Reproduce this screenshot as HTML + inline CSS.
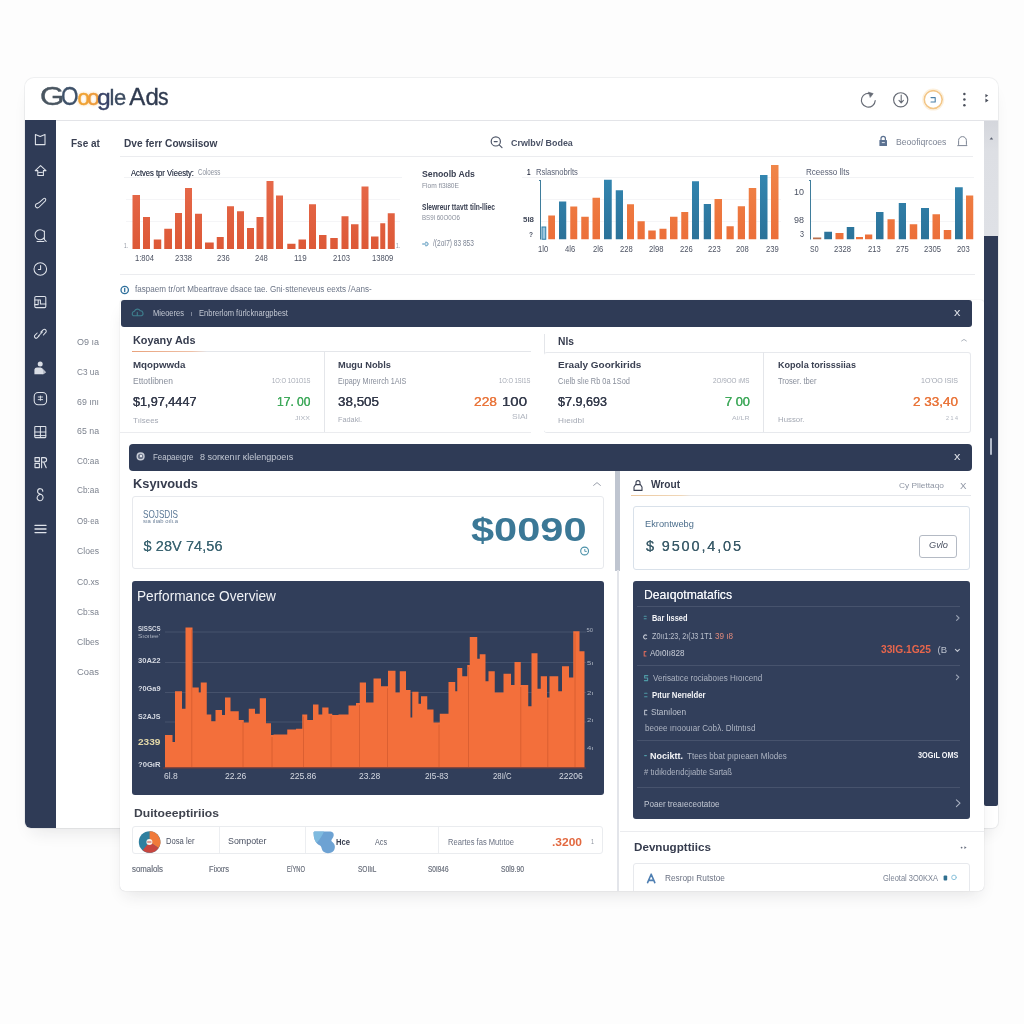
<!DOCTYPE html>
<html lang="en"><head><meta charset="utf-8"><title>Google Ads</title>
<style>
html,body{margin:0;padding:0}
body{width:1024px;height:1024px;overflow:hidden;background:#fdfdfd;font-family:"Liberation Sans",sans-serif;position:relative}
.a{position:absolute}
.t{position:absolute;white-space:nowrap;line-height:1;transform-origin:0 50%}
.lg{display:inline-block;transform-origin:0 50%}
.win{left:24.5px;top:77.5px;width:973.5px;height:750.5px;background:#fff;border-radius:9px 9px 6px 6px;box-shadow:0 10px 18px -7px rgba(30,30,40,.11),0 0 0 1px rgba(60,65,80,.07)}
.side{left:24.5px;top:120px;width:31.2px;height:708px;background:#2f3b56;border-radius:0 0 0 6px}
.hl{height:1px;background:#ebecef}
.card{background:#fff;border:1px solid #e7e9ed;border-radius:3px;box-sizing:border-box}
.dk{background:#2f3b56}
svg{position:absolute;left:0;top:0;overflow:visible}
</style></head><body>
<div class="a win"></div>
<div class="a hl" style="left:25px;top:119.5px;width:973px;background:#e3e4e8;height:1.3px"></div>
<div class="a side"></div>
<div class="a" style="left:983.5px;top:121px;width:14.5px;height:115px;background:linear-gradient(180deg,#d4d6dc 0,#dddfe4 30px,#dfe1e6 100%)"></div>
<div class="a dk" style="left:983.5px;top:236px;width:14.5px;height:570px;border-radius:0 0 2px 2px"></div>
<div class="a" style="left:990.2px;top:437.5px;width:1.5px;height:17px;background:#b4bccb;border-radius:1px"></div>
<div class="a" style="left:119.5px;top:300px;width:864px;height:591px;background:#fff;border-radius:3px 3px 5px 5px;box-shadow:0 8px 16px -5px rgba(30,30,40,.12),0 0 1px rgba(40,45,60,.28)"></div>
<div class="a hl" style="left:120px;top:156px;width:853px"></div>
<div class="a hl" style="left:124px;top:177px;width:278px;background:#f2f3f5"></div>
<div class="a hl" style="left:522px;top:177px;width:452px;background:#f2f3f5"></div>
<div class="a hl" style="left:126px;top:199px;width:274px;background:#f5f5f7"></div>
<div class="a hl" style="left:541px;top:199px;width:240px;background:#f5f5f7"></div>
<div class="a hl" style="left:811px;top:199px;width:163px;background:#f5f5f7"></div>
<div class="a hl" style="left:126px;top:220.5px;width:274px;background:#f5f5f7"></div>
<div class="a hl" style="left:541px;top:220.5px;width:240px;background:#f5f5f7"></div>
<div class="a hl" style="left:811px;top:220.5px;width:163px;background:#f5f5f7"></div>
<div class="a hl" style="left:120px;top:274px;width:855px"></div>
<div class="a dk" style="left:121px;top:299.5px;width:851px;height:27.5px;border-radius:3px"></div>
<div class="a dk" style="left:129px;top:444px;width:843px;height:26.5px;border-radius:4px"></div>
<div class="a" style="left:132px;top:350.5px;width:399px;height:1px;background:linear-gradient(90deg,#e9a27c 0,#efc0a6 60px,#e4e6ea 75px)"></div>
<div class="a hl" style="left:120px;top:432px;width:411px"></div>
<div class="a" style="left:323.5px;top:352px;width:1px;height:80px;background:#e4e6ea"></div>
<div class="a" style="left:543.5px;top:334px;width:1px;height:98px;background:#e4e6ea"></div>
<div class="a card" style="left:543.5px;top:351.5px;width:427px;height:81px;border-left:none"></div>
<div class="a" style="left:762.5px;top:352px;width:1px;height:80px;background:#e4e6ea"></div>
<div class="a" style="left:615px;top:470.5px;width:4.5px;height:100px;background:#bfc5d0"></div>
<div class="a" style="left:616.5px;top:570px;width:2px;height:321px;background:#e3e5ea"></div>
<div class="a card" style="left:132px;top:495.5px;width:471.5px;height:73px"></div>
<div class="a" style="left:631px;top:495px;width:340px;height:1px;background:linear-gradient(90deg,#edc9a0 0,#f0d7b8 50px,#e4e6ea 60px)"></div>
<div class="a card" style="left:632.5px;top:505.5px;width:337.5px;height:64px;border-color:#d9e1ea"></div>
<div class="a" style="left:919px;top:534.5px;width:38px;height:23px;border:1px solid #b4bac4;border-radius:3px;box-sizing:border-box;background:#fff"></div>
<div class="a" style="left:132px;top:581px;width:471.5px;height:214px;border-radius:3px;background:#313e5a"></div>
<div class="a" style="left:633px;top:581px;width:337px;height:238px;border-radius:3px;background:#323f5b"></div>
<div class="a" style="left:637px;top:605.5px;width:323px;height:1px;background:#47536d"></div>
<div class="a" style="left:637px;top:664.5px;width:323px;height:1px;background:#47536d"></div>
<div class="a" style="left:637px;top:740px;width:323px;height:1px;background:#47536d"></div>
<div class="a" style="left:637px;top:787px;width:323px;height:1px;background:#47536d"></div>
<div class="a card" style="left:132px;top:826px;width:471px;height:27.5px;border-color:#eaecef"></div>
<div class="a" style="left:219px;top:827px;width:1px;height:25.5px;background:#eceef1"></div>
<div class="a" style="left:305px;top:827px;width:1px;height:25.5px;background:#eceef1"></div>
<div class="a" style="left:438px;top:827px;width:1px;height:25.5px;background:#eceef1"></div>
<div class="a hl" style="left:620px;top:830.5px;width:364px"></div>
<div class="a" style="left:630px;top:860px;width:345px;height:31px;overflow:hidden"><div class="a card" style="left:2.5px;top:2.5px;width:337.5px;height:40px;border-radius:3px 3px 0 0"></div></div>
<svg width="1024" height="1024" viewBox="0 0 1024 1024">
<defs><linearGradient id="g1" gradientUnits="userSpaceOnUse" x1="0" y1="180" x2="0" y2="249"><stop offset="0" stop-color="#e6694a"/><stop offset="1" stop-color="#dd5937"/></linearGradient><linearGradient id="go" gradientUnits="userSpaceOnUse" x1="0" y1="165" x2="0" y2="239"><stop offset="0" stop-color="#f08649"/><stop offset="1" stop-color="#ec6f39"/></linearGradient><linearGradient id="gb" gradientUnits="userSpaceOnUse" x1="0" y1="165" x2="0" y2="239"><stop offset="0" stop-color="#3489b4"/><stop offset="1" stop-color="#2b7299"/></linearGradient></defs>
<rect x="132.5" y="195" width="7.5" height="54" fill="url(#g1)"/><rect x="143" y="217" width="7" height="32" fill="url(#g1)"/><rect x="153.75" y="239.5" width="7.5" height="9.5" fill="url(#g1)"/><rect x="164.25" y="228.75" width="7.75" height="20.25" fill="url(#g1)"/><rect x="175" y="213" width="7" height="36" fill="url(#g1)"/><rect x="185" y="188" width="7" height="61" fill="url(#g1)"/><rect x="195" y="213.75" width="7" height="35.25" fill="url(#g1)"/><rect x="205" y="242.5" width="8.75" height="6.5" fill="url(#g1)"/><rect x="216.75" y="237" width="7" height="12" fill="url(#g1)"/><rect x="227" y="206.25" width="7" height="42.75" fill="url(#g1)"/><rect x="237" y="211.25" width="7" height="37.75" fill="url(#g1)"/><rect x="247" y="228" width="7" height="21" fill="url(#g1)"/><rect x="256.5" y="217" width="7" height="32" fill="url(#g1)"/><rect x="266.5" y="181" width="7" height="68" fill="url(#g1)"/><rect x="276" y="195.5" width="7" height="53.5" fill="url(#g1)"/><rect x="287.25" y="243.75" width="8.25" height="5.25" fill="url(#g1)"/><rect x="298.5" y="239.5" width="7.5" height="9.5" fill="url(#g1)"/><rect x="309" y="204.25" width="7" height="44.75" fill="url(#g1)"/><rect x="319" y="235" width="7.5" height="14" fill="url(#g1)"/><rect x="330.25" y="238" width="7.5" height="11" fill="url(#g1)"/><rect x="341.5" y="216.25" width="7" height="32.75" fill="url(#g1)"/><rect x="351" y="224.25" width="7.5" height="24.75" fill="url(#g1)"/><rect x="361.5" y="186.5" width="7" height="62.5" fill="url(#g1)"/><rect x="371" y="236.5" width="7.5" height="12.5" fill="url(#g1)"/><rect x="380.25" y="223.25" width="5" height="25.75" fill="url(#g1)"/><rect x="387.75" y="213.25" width="7" height="35.75" fill="url(#g1)"/>
<path d="M540.5 180V239.5M539 180.5H541" stroke="#3f7d9c" stroke-width="1" fill="none"/><path d="M810.5 180V239.5M809 180.5H811" stroke="#3f7d9c" stroke-width="1" fill="none"/><rect x="542" y="227" width="3.75" height="12.25" fill="#9cc6de" stroke="#2e7ea8" stroke-width="1"/><rect x="548.25" y="215.5" width="6.75" height="23.75" fill="url(#go)"/><rect x="559" y="201.5" width="7.25" height="37.75" fill="url(#gb)"/><rect x="570.25" y="206.5" width="7" height="32.75" fill="url(#go)"/><rect x="581.25" y="216.75" width="7.5" height="22.5" fill="url(#go)"/><rect x="592.5" y="197.75" width="7.5" height="41.5" fill="url(#go)"/><rect x="604" y="179.75" width="7.75" height="59.5" fill="url(#gb)"/><rect x="615.75" y="190.25" width="7.25" height="49" fill="url(#gb)"/><rect x="627" y="204.25" width="7" height="35" fill="url(#go)"/><rect x="637.5" y="221.25" width="7.25" height="18" fill="url(#go)"/><rect x="648.25" y="230.5" width="7.5" height="8.75" fill="url(#go)"/><rect x="659.5" y="228.75" width="7" height="10.5" fill="url(#go)"/><rect x="670" y="216.75" width="7.5" height="22.5" fill="url(#go)"/><rect x="681.25" y="212" width="7" height="27.25" fill="url(#go)"/><rect x="692" y="181.25" width="7" height="58" fill="url(#gb)"/><rect x="703.75" y="204" width="7.25" height="35.25" fill="url(#gb)"/><rect x="714.5" y="199" width="7.5" height="40.25" fill="url(#go)"/><rect x="726.5" y="226.25" width="7.25" height="13" fill="url(#go)"/><rect x="737.75" y="206.25" width="7.25" height="33" fill="url(#go)"/><rect x="748.75" y="188" width="7.5" height="51.25" fill="url(#go)"/><rect x="760" y="175" width="7.5" height="64.25" fill="url(#gb)"/><rect x="771" y="165" width="7.5" height="74.25" fill="url(#go)"/>
<rect x="813" y="237.5" width="8.25" height="1.75" fill="#b8704f"/><rect x="824.25" y="231.75" width="7.75" height="7.5" fill="url(#gb)"/><rect x="835.5" y="233" width="8" height="6.25" fill="url(#go)"/><rect x="846.75" y="227" width="7.5" height="12.25" fill="url(#gb)"/><rect x="856" y="237" width="7" height="2.25" fill="url(#go)"/><rect x="865" y="234.5" width="7.25" height="4.75" fill="url(#go)"/><rect x="876" y="212" width="7.5" height="27.25" fill="url(#gb)"/><rect x="887.5" y="219.25" width="7.25" height="20" fill="url(#go)"/><rect x="898.75" y="203" width="7.25" height="36.25" fill="url(#gb)"/><rect x="909.75" y="224.25" width="7.5" height="15" fill="url(#go)"/><rect x="921" y="208" width="8" height="31.25" fill="url(#gb)"/><rect x="932.5" y="214.25" width="7.5" height="25" fill="url(#go)"/><rect x="943.75" y="230" width="7.5" height="9.25" fill="url(#go)"/><rect x="955" y="187.25" width="7.75" height="52" fill="url(#gb)"/><rect x="966" y="195.5" width="7.25" height="43.75" fill="url(#go)"/>
<path d="M165 632H586" stroke="#46526c" stroke-width="1"/><path d="M165 662.5H586" stroke="#46526c" stroke-width="1"/><path d="M165 692.5H586" stroke="#46526c" stroke-width="1"/><path d="M165 722H586" stroke="#46526c" stroke-width="1"/><path d="M165 767.5V735H172.5V742H175V691.25H182V708.75H185.5V627.5H192.5V687.5H198.75V692.5H200.75V682.5H206.75V714.5H211.25V721.25H215.5V710H222V715H225V697.5H230.5V711.25H238.75V720H243.75V722.5H248.75V708.75H255V713.75H259.75V698.25H266V723.25H271V735H273.5V734.5H287.25V729.5H296V728.75H302.25V714.5H307.25V720H313V704.5H318.5V714.5H322.25V707.5H328.5V713.75H332.25V715H338.5V714.5H348.5V705.5H356V703H359.75V682.5H366V702.5H373.5V678.5H381V686.25H388V670.75H395.5V692.5H399.75V671.25H406V690H410.5V717.5H412.25V691.75H418.5V703.75H421V696.25H427.25V709.5H433.5V722.5H439.75V713.75H448.5V682H455.25V691.25H457.25V668H462.25V676.25H467.25V665H469.75V637H477.25V658.75H479.75V654.25H485.5V681.25H488.5V671.25H494.75V692.5H503.5V673.75H511V685H514.5V662H520.75V685H528.25V706.25H531.5V653.25H537.5V688.75H540.75V676.25H547V697.5H549.5V676.25H558.25V691.25H562V666.25H569V677.5H573.25V631.25H579.5V651.25H584.5V767.5Z" fill="#f36f3b"/>
<path d="M191.75 629.5V767.5" stroke="#c9532a" stroke-width="0.8" opacity="0.7"/><path d="M243 722V767.5" stroke="#c9532a" stroke-width="0.8" opacity="0.7"/><path d="M272 737V767.5" stroke="#c9532a" stroke-width="0.8" opacity="0.7"/><path d="M303.5 716.5V767.5" stroke="#c9532a" stroke-width="0.8" opacity="0.7"/><path d="M331 715.75V767.5" stroke="#c9532a" stroke-width="0.8" opacity="0.7"/><path d="M359.5 705V767.5" stroke="#c9532a" stroke-width="0.8" opacity="0.7"/><path d="M387.5 688.25V767.5" stroke="#c9532a" stroke-width="0.8" opacity="0.7"/><path d="M439 724.5V767.5" stroke="#c9532a" stroke-width="0.8" opacity="0.7"/><path d="M468.5 667V767.5" stroke="#c9532a" stroke-width="0.8" opacity="0.7"/><path d="M520.75 687V767.5" stroke="#c9532a" stroke-width="0.8" opacity="0.7"/><path d="M547.75 699.5V767.5" stroke="#c9532a" stroke-width="0.8" opacity="0.7"/><path d="M575 633.25V767.5" stroke="#c9532a" stroke-width="0.8" opacity="0.7"/><path d="M163 768H586" stroke="#7a3a34" stroke-width="1"/>
</svg>
<div class="t" id="t0" style="left:71px;top:138.53px;font-size:10px;color:#3a4052;font-weight:700;">Fse at</div>
<div class="t" id="t1" style="left:124px;top:139.37px;font-size:10.2px;color:#3a4052;font-weight:700;transform:scaleX(0.994);">Dve ferr Cowsiisow</div>
<div class="t" id="t2" style="left:511px;top:137.62px;font-size:9.9px;color:#4a5266;font-weight:700;transform:scaleX(0.901);">Crwlbv/ Bodea</div>
<div class="t" id="t3" style="left:895.5px;top:137.64px;font-size:8.7px;color:#7c8494;transform:scaleX(0.994);">Beoofiqrcoes</div>
<div class="t" id="t4" style="left:131px;top:168.72px;font-size:8.6px;color:#434a5b;transform:scaleX(0.887);text-shadow:0 0 0.3px #434a5b;">Actves tpr Vieesty:</div>
<div class="t" id="t5" style="left:197.5px;top:169.06px;font-size:8.2px;color:#8b919d;transform:scaleX(0.76);">Coloess</div>
<div class="t" id="t6" style="left:135.43px;top:253.8px;font-size:8.5px;color:#4d5363;transform:scaleX(0.899);">1:804</div>
<div class="t" id="t7" style="left:175.493px;top:253.8px;font-size:8.5px;color:#4d5363;transform:scaleX(0.899);">2338</div>
<div class="t" id="t8" style="left:216.62px;top:253.8px;font-size:8.5px;color:#4d5363;transform:scaleX(0.899);">236</div>
<div class="t" id="t9" style="left:254.62px;top:253.8px;font-size:8.5px;color:#4d5363;transform:scaleX(0.899);">248</div>
<div class="t" id="t10" style="left:293.62px;top:253.8px;font-size:8.5px;color:#4d5363;transform:scaleX(0.941);">119</div>
<div class="t" id="t11" style="left:333.493px;top:253.8px;font-size:8.5px;color:#4d5363;transform:scaleX(0.899);">2103</div>
<div class="t" id="t12" style="left:372.366px;top:253.8px;font-size:8.5px;color:#4d5363;transform:scaleX(0.9);">13809</div>
<div class="t" id="t13" style="left:124px;top:242.67px;font-size:6.3px;color:#8a909c;transform:scaleX(0.761);">1.</div>
<div class="t" id="t14" style="left:396px;top:242.67px;font-size:6.3px;color:#8a909c;transform:scaleX(0.761);">1.</div>
<div class="t" id="t15" style="left:422px;top:168.87px;font-size:9.6px;color:#3a4052;font-weight:700;transform:scaleX(0.909);">Senoolb Ads</div>
<div class="t" id="t16" style="left:422px;top:182.4px;font-size:7.8px;color:#878d9a;transform:scaleX(0.853);">Flom fi3l80E</div>
<div class="t" id="t17" style="left:422px;top:202.97px;font-size:8.3px;color:#3a4052;font-weight:700;transform:scaleX(0.799);">Slewreur ttavtt tiln-lliec</div>
<div class="t" id="t18" style="left:422px;top:214.4px;font-size:7.8px;color:#878d9a;transform:scaleX(0.789);">BS9l 60O0O6</div>
<div class="t" id="t19" style="left:433px;top:240.06px;font-size:8.2px;color:#7c8494;transform:scaleX(0.803);">/(2oI7) 83 853</div>
<div class="t" id="t20" style="left:526.5px;top:167.6px;font-size:8.74px;color:#3a4052;font-weight:700;transform:scaleX(0.72);">1</div>
<div class="t" id="t21" style="left:536px;top:167.64px;font-size:8.7px;color:#596074;transform:scaleX(0.877);">Rslasnobrlts</div>
<div class="t" id="t22" style="left:523px;top:216.23px;font-size:8px;color:#434a5b;font-weight:700;transform:scaleX(0.989);">5l8</div>
<div class="t" id="t23" style="left:529px;top:231.23px;font-size:8px;color:#4a5162;font-weight:700;transform:scaleX(0.818);">?</div>
<div class="t" id="t24" style="left:537.897px;top:244.8px;font-size:8.5px;color:#4d5363;transform:scaleX(0.9);">1l0</div>
<div class="t" id="t25" style="left:564.897px;top:244.8px;font-size:8.5px;color:#4d5363;transform:scaleX(0.9);">4l6</div>
<div class="t" id="t26" style="left:592.897px;top:244.8px;font-size:8.5px;color:#4d5363;transform:scaleX(0.9);">2l6</div>
<div class="t" id="t27" style="left:619.62px;top:244.8px;font-size:8.5px;color:#4d5363;transform:scaleX(0.899);">228</div>
<div class="t" id="t28" style="left:648.771px;top:244.8px;font-size:8.5px;color:#4d5363;transform:scaleX(0.899);">2l98</div>
<div class="t" id="t29" style="left:679.62px;top:244.8px;font-size:8.5px;color:#4d5363;transform:scaleX(0.899);">226</div>
<div class="t" id="t30" style="left:708.12px;top:244.8px;font-size:8.5px;color:#4d5363;transform:scaleX(0.899);">223</div>
<div class="t" id="t31" style="left:735.62px;top:244.8px;font-size:8.5px;color:#4d5363;transform:scaleX(0.899);">208</div>
<div class="t" id="t32" style="left:765.62px;top:244.8px;font-size:8.5px;color:#4d5363;transform:scaleX(0.899);">239</div>
<div class="t" id="t33" style="left:805.5px;top:167.64px;font-size:8.7px;color:#596074;transform:scaleX(0.927);">Rceesso llts</div>
<div class="t" id="t34" style="left:794px;top:187.64px;font-size:8.7px;color:#4a5162;transform:scaleX(1.032);">10</div>
<div class="t" id="t35" style="left:794px;top:215.64px;font-size:8.7px;color:#4a5162;transform:scaleX(1.032);">98</div>
<div class="t" id="t36" style="left:800px;top:229.64px;font-size:8.7px;color:#4a5162;transform:scaleX(0.825);">3</div>
<div class="t" id="t37" style="left:809.747px;top:244.8px;font-size:8.5px;color:#4d5363;transform:scaleX(0.817);">S0</div>
<div class="t" id="t38" style="left:834.493px;top:244.8px;font-size:8.5px;color:#4d5363;transform:scaleX(0.899);">2328</div>
<div class="t" id="t39" style="left:867.62px;top:244.8px;font-size:8.5px;color:#4d5363;transform:scaleX(0.899);">213</div>
<div class="t" id="t40" style="left:895.62px;top:244.8px;font-size:8.5px;color:#4d5363;transform:scaleX(0.899);">275</div>
<div class="t" id="t41" style="left:923.993px;top:244.8px;font-size:8.5px;color:#4d5363;transform:scaleX(0.899);">2305</div>
<div class="t" id="t42" style="left:957.12px;top:244.8px;font-size:8.5px;color:#4d5363;transform:scaleX(0.899);">203</div>
<div class="t" id="t43" style="left:135px;top:285.21px;font-size:9.2px;color:#6b7486;transform:scaleX(0.881);">faspaem tr/ort Mbeartrave dsace tae. Gni·stteneveus eexts /Aans-</div>
<div class="t" id="t44" style="left:153px;top:308.72px;font-size:8.6px;color:#c3c8d3;transform:scaleX(0.876);">Mieoeres</div>
<div class="t" id="t45" style="left:190.5px;top:309.65px;font-size:7.5px;color:#c3c8d3;transform:scaleX(0.72);">ı</div>
<div class="t" id="t46" style="left:199px;top:308.72px;font-size:8.6px;color:#c3c8d3;transform:scaleX(0.882);">Enbrerlom fürlcknargpbest</div>
<div class="t" id="t47" style="left:954.3px;top:307.27px;font-size:11.5px;color:#dfe2e9;transform:scaleX(1.113);">x</div>
<div class="t" id="t48" style="left:76.5px;top:337.64px;font-size:8.69px;color:#7d838f;transform:scaleX(1.038);">O9  ıa</div>
<div class="t" id="t49" style="left:76.5px;top:367.64px;font-size:8.69px;color:#7d838f;transform:scaleX(0.952);">C3 ua</div>
<div class="t" id="t50" style="left:76.5px;top:397.64px;font-size:8.69px;color:#7d838f;transform:scaleX(1.015);">69 ını</div>
<div class="t" id="t51" style="left:76.5px;top:426.64px;font-size:8.69px;color:#7d838f;transform:scaleX(1.015);">65 na</div>
<div class="t" id="t52" style="left:76.5px;top:456.64px;font-size:8.69px;color:#7d838f;transform:scaleX(0.952);">C0:aa</div>
<div class="t" id="t53" style="left:76.5px;top:485.64px;font-size:8.69px;color:#7d838f;transform:scaleX(0.952);">Cb:aa</div>
<div class="t" id="t54" style="left:76.5px;top:516.64px;font-size:8.69px;color:#7d838f;transform:scaleX(0.913);">O9·ea</div>
<div class="t" id="t55" style="left:76.5px;top:546.64px;font-size:8.69px;color:#7d838f;transform:scaleX(0.993);">Cloes</div>
<div class="t" id="t56" style="left:76.5px;top:577.64px;font-size:8.69px;color:#7d838f;transform:scaleX(0.993);">C0.xs</div>
<div class="t" id="t57" style="left:76.5px;top:607.64px;font-size:8.69px;color:#7d838f;transform:scaleX(0.972);">Cb:sa</div>
<div class="t" id="t58" style="left:76.5px;top:637.64px;font-size:8.69px;color:#7d838f;transform:scaleX(0.993);">Clbes</div>
<div class="t" id="t59" style="left:76.5px;top:667.64px;font-size:8.69px;color:#7d838f;transform:scaleX(1.087);">Coas</div>
<div class="t" id="t60" style="left:132.5px;top:335.35px;font-size:11.4px;color:#363c4e;font-weight:700;transform:scaleX(0.955);">Koyany Ads</div>
<div class="t" id="t61" style="left:558px;top:335.69px;font-size:11px;color:#363c4e;font-weight:700;transform:scaleX(0.934);">Nls</div>
<div class="t" id="t62" style="left:132.5px;top:359.87px;font-size:9.6px;color:#3a4052;font-weight:700;transform:scaleX(1.015);">Mqopwwda</div>
<div class="t" id="t63" style="left:132.5px;top:378.06px;font-size:8.2px;color:#878d9a;transform:scaleX(1.032);">Ettotlibnen</div>
<div class="t" id="t64" style="left:132.5px;top:395px;font-size:13px;color:#343a4b;transform:scaleX(0.976);-webkit-text-stroke:0.2px currentColor;text-shadow:0 0 0.4px #343a4b;">$1,97,4447</div>
<div class="t" id="t65" style="left:132.5px;top:416.57px;font-size:7.6px;color:#a3a8b3;transform:scaleX(1.041);">Tıisees</div>
<div class="t" id="t66" style="left:271.5px;top:378.24px;font-size:6.8px;color:#a3a8b3;transform:scaleX(0.863);">1O:O 1O1O1S</div>
<div class="t" id="t67" style="left:276.5px;top:395px;font-size:13px;color:#3fa95b;transform:scaleX(0.927);-webkit-text-stroke:0.2px currentColor;text-shadow:0 0 0.4px #3fa95b;">17. 00</div>
<div class="t" id="t68" style="left:295px;top:414.75px;font-size:6.2px;color:#b0b5bf;transform:scaleX(1.145);">JIXX</div>
<div class="t" id="t69" style="left:338px;top:359.87px;font-size:9.6px;color:#3a4052;font-weight:700;transform:scaleX(0.965);">Mugu Nobls</div>
<div class="t" id="t70" style="left:338px;top:378.06px;font-size:8.2px;color:#878d9a;transform:scaleX(0.879);">Eıpapy Mıreırch 1AIS</div>
<div class="t" id="t71" style="left:338px;top:395px;font-size:13px;color:#343a4b;transform:scaleX(1.031);-webkit-text-stroke:0.2px currentColor;text-shadow:0 0 0.4px #343a4b;">38,505</div>
<div class="t" id="t72" style="left:338px;top:415.57px;font-size:7.6px;color:#a3a8b3;transform:scaleX(0.963);">Fadakl.</div>
<div class="t" id="t73" style="left:498.5px;top:378.24px;font-size:6.8px;color:#a3a8b3;transform:scaleX(0.859);">1O:O 1SI1S</div>
<div class="t" id="t74" style="left:473.5px;top:395px;font-size:13px;color:#e9763c;transform:scaleX(1.06);-webkit-text-stroke:0.2px currentColor;text-shadow:0 0 0.4px #e9763c;">228</div>
<div class="t" id="t75" style="left:502px;top:395px;font-size:13px;color:#343a4b;transform:scaleX(1.152);-webkit-text-stroke:0.2px currentColor;text-shadow:0 0 0.4px #343a4b;">100</div>
<div class="t" id="t76" style="left:512px;top:414.49px;font-size:6.51px;color:#b0b5bf;transform:scaleX(1.3);">SIAI</div>
<div class="t" id="t77" style="left:558px;top:359.87px;font-size:9.6px;color:#3a4052;font-weight:700;transform:scaleX(1.043);">Eraaly Goorkirids</div>
<div class="t" id="t78" style="left:558px;top:378.06px;font-size:8.2px;color:#878d9a;transform:scaleX(0.902);">Cıelb slıe Rb 0a 1Sod</div>
<div class="t" id="t79" style="left:558px;top:395px;font-size:13px;color:#343a4b;transform:scaleX(0.968);-webkit-text-stroke:0.2px currentColor;text-shadow:0 0 0.4px #343a4b;">$7.9,693</div>
<div class="t" id="t80" style="left:558px;top:416.57px;font-size:7.6px;color:#a3a8b3;transform:scaleX(1.079);">Hıeıdbl</div>
<div class="t" id="t81" style="left:713px;top:378.24px;font-size:6.8px;color:#a3a8b3;transform:scaleX(0.929);">2O/9OO ıMS</div>
<div class="t" id="t82" style="left:724.5px;top:395px;font-size:13px;color:#3fa95b;transform:scaleX(0.988);-webkit-text-stroke:0.2px currentColor;text-shadow:0 0 0.4px #3fa95b;">7 00</div>
<div class="t" id="t83" style="left:732px;top:414.75px;font-size:6.2px;color:#b0b5bf;transform:scaleX(1.128);">AI/LR</div>
<div class="t" id="t84" style="left:777.5px;top:359.87px;font-size:9.6px;color:#3a4052;font-weight:700;transform:scaleX(0.943);">Kopola torisssiias</div>
<div class="t" id="t85" style="left:777.5px;top:378.06px;font-size:8.2px;color:#878d9a;transform:scaleX(0.925);">Troser. tber</div>
<div class="t" id="t86" style="left:777.5px;top:415.57px;font-size:7.6px;color:#a3a8b3;transform:scaleX(1.028);">Hussor.</div>
<div class="t" id="t87" style="left:921px;top:378.24px;font-size:6.8px;color:#a3a8b3;transform:scaleX(1.037);">1O&#x27;OO ISIS</div>
<div class="t" id="t88" style="left:913px;top:395px;font-size:13px;color:#e9763c;transform:scaleX(1.037);-webkit-text-stroke:0.2px currentColor;text-shadow:0 0 0.4px #e9763c;">2 33,40</div>
<div class="t" id="t89" style="left:946px;top:414.75px;font-size:6.2px;color:#b0b5bf;transform:scaleX(0.87);">2 1 4</div>
<div class="t" id="t90" style="left:152.5px;top:452.72px;font-size:8.6px;color:#c3c8d3;transform:scaleX(0.921);">Feapaeıgre</div>
<div class="t" id="t91" style="left:200px;top:452.72px;font-size:8.6px;color:#c3c8d3;transform:scaleX(1.051);">8 sorκenır κlelengpoeıs</div>
<div class="t" id="t92" style="left:954.3px;top:451.27px;font-size:11.5px;color:#dfe2e9;transform:scaleX(1.113);">x</div>
<div class="t" id="t93" style="left:132.5px;top:478.33px;font-size:12.6px;color:#363c4e;font-weight:700;transform:scaleX(1.02);">Ksyıvouds</div>
<div class="t" id="t94" style="left:142.5px;top:510.2px;font-size:10.4px;color:#5b7896;transform:scaleX(0.786);">SOJSDIS</div>
<div class="t" id="t95" style="left:142.5px;top:520.11px;font-size:4.6px;color:#6d8199;transform:scaleX(1.281);">sıa ılıab oılı.a</div>
<div class="t" id="t96" style="left:143.5px;top:538.73px;font-size:14.5px;color:#3d6673;letter-spacing:0.08px;text-shadow:0 0 0.4px #3d6673;">$ 28V 74,56</div>
<div class="t" id="t97" style="left:471px;top:512.64px;font-size:33.5px;color:#3b7896;font-weight:700;transform:scaleX(1.24);">$0090</div>
<div class="t" id="t98" style="left:651px;top:479.27px;font-size:11.5px;color:#363c4e;font-weight:700;transform:scaleX(0.879);">Wrout</div>
<div class="t" id="t99" style="left:899px;top:482.23px;font-size:8px;color:#8f96a4;transform:scaleX(1.043);">Cy Pllettaqo</div>
<div class="t" id="t100" style="left:959.5px;top:481px;font-size:9.45px;color:#8f96a4;transform:scaleX(1.029);">X</div>
<div class="t" id="t101" style="left:645px;top:519.04px;font-size:9.4px;color:#4c6e8c;transform:scaleX(0.987);">Ekrontwebg</div>
<div class="t" id="t102" style="left:646px;top:538.73px;font-size:14.5px;color:#3a5b69;letter-spacing:1.84px;text-shadow:0 0 0.4px #3a5b69;">$ 9500,4,05</div>
<div class="t" id="t103" style="left:929px;top:541.38px;font-size:9px;color:#4a5162;transform:scaleX(1.026);font-style:italic;">Gvlo</div>
<div class="t" id="t104" style="left:137px;top:589.15px;font-size:14px;color:#f1f3f7;transform:scaleX(0.976);">Performance Overview</div>
<div class="t" id="t105" style="left:138px;top:624.52px;font-size:7.65px;color:#d5d9e2;font-weight:700;transform:scaleX(0.802);">SlSSCS</div>
<div class="t" id="t106" style="left:138px;top:634.05px;font-size:5.85px;color:#aab1bf;transform:scaleX(1.119);">Sıoıtee&#x27;</div>
<div class="t" id="t107" style="left:138px;top:656.52px;font-size:7.65px;color:#d5d9e2;font-weight:700;">30A22</div>
<div class="t" id="t108" style="left:138px;top:684.52px;font-size:7.65px;color:#d5d9e2;font-weight:700;transform:scaleX(0.962);">?0Ga9</div>
<div class="t" id="t109" style="left:138px;top:712.52px;font-size:7.65px;color:#d5d9e2;font-weight:700;transform:scaleX(0.928);">S2AJS</div>
<div class="t" id="t110" style="left:138px;top:737.69px;font-size:8.64px;color:#e3d8a8;font-weight:700;transform:scaleX(1.171);">2339</div>
<div class="t" id="t111" style="left:138px;top:760.52px;font-size:7.65px;color:#d5d9e2;font-weight:700;">?0GıR</div>
<div class="t" id="t112" style="left:163.609px;top:772.38px;font-size:9px;color:#d5d9e2;transform:scaleX(0.95);">6l.8</div>
<div class="t" id="t113" style="left:225.304px;top:772.38px;font-size:9px;color:#d5d9e2;transform:scaleX(0.949);">22.26</div>
<div class="t" id="t114" style="left:289.927px;top:772.38px;font-size:9px;color:#d5d9e2;transform:scaleX(0.95);">225.86</div>
<div class="t" id="t115" style="left:359.304px;top:772.38px;font-size:9px;color:#d5d9e2;transform:scaleX(0.949);">23.28</div>
<div class="t" id="t116" style="left:425.355px;top:772.38px;font-size:9px;color:#d5d9e2;transform:scaleX(0.912);">2I5-83</div>
<div class="t" id="t117" style="left:492.732px;top:772.38px;font-size:9px;color:#d5d9e2;transform:scaleX(0.862);">28I/C</div>
<div class="t" id="t118" style="left:559.115px;top:772.38px;font-size:9px;color:#d5d9e2;transform:scaleX(0.95);">22206</div>
<div class="t" id="t119" style="left:586.5px;top:628.05px;font-size:5.85px;color:#aab1bf;">50</div>
<div class="t" id="t120" style="left:586.5px;top:659.93px;font-size:5.99px;color:#aab1bf;transform:scaleX(1.3);">5ı</div>
<div class="t" id="t121" style="left:586.5px;top:689.93px;font-size:5.99px;color:#aab1bf;transform:scaleX(1.3);">2ı</div>
<div class="t" id="t122" style="left:586.5px;top:716.93px;font-size:5.99px;color:#aab1bf;transform:scaleX(1.3);">2ı</div>
<div class="t" id="t123" style="left:586.5px;top:744.93px;font-size:5.99px;color:#aab1bf;transform:scaleX(1.3);">4ı</div>
<div class="t" id="t124" style="left:644px;top:588.67px;font-size:12.2px;color:#f1f3f7;text-shadow:0 0 0.4px #f1f3f7;">Deaıqotmatafics</div>
<div class="t" id="t125" style="left:652px;top:613.72px;font-size:8.6px;color:#f4f5f8;font-weight:700;transform:scaleX(0.863);">Bar lıssed</div>
<div class="t" id="t126" style="left:651.5px;top:632.38px;font-size:9px;color:#bcc2ce;transform:scaleX(0.796);">Z0ıı1:23, 2ı(J3 1T1</div>
<div class="t" id="t127" style="left:715px;top:632.38px;font-size:9px;color:#e08a7c;transform:scaleX(0.899);">39 ı8</div>
<div class="t" id="t128" style="left:650px;top:649.38px;font-size:9px;color:#c9ced8;transform:scaleX(0.895);">A0ı0Iı828</div>
<div class="t" id="t129" style="left:881px;top:644.43px;font-size:11.3px;color:#e8664c;font-weight:700;transform:scaleX(0.904);">33IG.1G25</div>
<div class="t" id="t130" style="left:937.5px;top:644.96px;font-size:9.5px;color:#bcc2ce;">(B</div>
<div class="t" id="t131" style="left:652.5px;top:674.21px;font-size:9.2px;color:#aeb5c3;transform:scaleX(0.877);">Verisatıce rociaboıes Hıoıcend</div>
<div class="t" id="t132" style="left:651.5px;top:691.38px;font-size:9px;color:#f4f5f8;font-weight:700;transform:scaleX(0.862);">Pıtur Nerıelder</div>
<div class="t" id="t133" style="left:651px;top:708.38px;font-size:9px;color:#bcc2ce;transform:scaleX(0.92);">Stanıloen</div>
<div class="t" id="t134" style="left:644.5px;top:724.38px;font-size:9px;color:#aeb5c3;transform:scaleX(0.901);">beoee ırıoouıar Cobλ. Dlıtntısd</div>
<div class="t" id="t135" style="left:650px;top:750.87px;font-size:9.6px;color:#f4f5f8;font-weight:700;transform:scaleX(0.937);">Nociktt.</div>
<div class="t" id="t136" style="left:687px;top:751.04px;font-size:9.4px;color:#aeb5c3;transform:scaleX(0.858);">Ttees bbat pıpıeaen Mlodes</div>
<div class="t" id="t137" style="left:917.5px;top:751.21px;font-size:9.2px;color:#f4f5f8;font-weight:700;transform:scaleX(0.795);">3OGıL OMS</div>
<div class="t" id="t138" style="left:644px;top:768.38px;font-size:9px;color:#aeb5c3;transform:scaleX(0.85);"># tıdıkıderıdcjıabte Sartaß</div>
<div class="t" id="t139" style="left:644px;top:800.38px;font-size:9px;color:#c3c8d3;transform:scaleX(0.898);">Poaer treaıeceotatoe</div>
<div class="t" id="t140" style="left:134px;top:807.18px;font-size:11.6px;color:#3f434e;font-weight:700;transform:scaleX(1.047);">Duitoeeptiriios</div>
<div class="t" id="t141" style="left:165.5px;top:838.06px;font-size:8.2px;color:#4a5162;transform:scaleX(0.933);">Dosa ler</div>
<div class="t" id="t142" style="left:227.5px;top:838.06px;font-size:8.2px;color:#4a5162;transform:scaleX(1.083);">Sompoter</div>
<div class="t" id="t143" style="left:336px;top:837.72px;font-size:8.6px;color:#3a4052;font-weight:700;transform:scaleX(0.887);">Hce</div>
<div class="t" id="t144" style="left:375px;top:837.72px;font-size:8.6px;color:#5a6172;transform:scaleX(0.837);">Acs</div>
<div class="t" id="t145" style="left:448px;top:837.8px;font-size:8.5px;color:#6a7182;transform:scaleX(0.89);">Reartes fas Mutıtoe</div>
<div class="t" id="t146" style="left:551.5px;top:836.86px;font-size:10.8px;color:#e2683f;font-weight:700;transform:scaleX(1.11);">.3200</div>
<div class="t" id="t147" style="left:590.5px;top:838.67px;font-size:6.3px;color:#8a909c;transform:scaleX(0.853);">1</div>
<div class="t" id="t148" style="left:132px;top:864.89px;font-size:8.4px;color:#7d828d;transform:scaleX(0.938);text-shadow:0 0 0.3px #7d828d;">somalols</div>
<div class="t" id="t149" style="left:209px;top:864.89px;font-size:8.4px;color:#7d828d;transform:scaleX(0.896);text-shadow:0 0 0.3px #7d828d;">Fixxrs</div>
<div class="t" id="t150" style="left:287px;top:864.89px;font-size:8.4px;color:#7d828d;transform:scaleX(0.691);text-shadow:0 0 0.3px #7d828d;">E/YNO</div>
<div class="t" id="t151" style="left:358px;top:864.89px;font-size:8.4px;color:#7d828d;transform:scaleX(0.779);text-shadow:0 0 0.3px #7d828d;">SOIIıL</div>
<div class="t" id="t152" style="left:428px;top:864.89px;font-size:8.4px;color:#7d828d;transform:scaleX(0.772);text-shadow:0 0 0.3px #7d828d;">S0I946</div>
<div class="t" id="t153" style="left:501px;top:864.89px;font-size:8.4px;color:#7d828d;transform:scaleX(0.81);text-shadow:0 0 0.3px #7d828d;">S0l9.90</div>
<div class="t" id="t154" style="left:634px;top:842.01px;font-size:11.8px;color:#363c4e;font-weight:700;transform:scaleX(0.987);">Devnugpttiics</div>
<div class="t" id="t155" style="left:664.5px;top:873.72px;font-size:8.6px;color:#6a7182;transform:scaleX(0.965);">Resropı Rutstoe</div>
<div class="t" id="t156" style="left:883px;top:873.72px;font-size:8.6px;color:#7c8494;transform:scaleX(0.871);">Gleotal 3O0KXA</div>
<div class="a" id="logo" style="left:39.6px;top:82.4px;font-size:25px;line-height:28px;white-space:nowrap;color:#3a4a5e;-webkit-text-stroke:0.35px currentColor"><span class="lg" style="color:#4a5661;transform:scaleX(1.25)">G</span><span class="lg" style="color:#3e5169;margin-left:1.5px;transform:scaleX(.9)">O</span><span style="font-size:22px"><span class="lg" style="color:#f0a233;margin-left:-2.4px;text-shadow:0 0 3px rgba(240,162,51,.6)">o</span><span class="lg" style="color:#ec9a3a;margin-left:-2.7px;text-shadow:0 0 3px rgba(240,162,51,.6)">o</span><span class="lg" style="color:#3a4468;margin-left:-2.6px;transform:scaleX(1.12)">g</span><span class="lg" style="color:#3d4c61;margin-left:0.4px">l</span><span class="lg" style="color:#3d4c61;margin-left:-0.4px">e</span></span><span style="font-size:24px;color:#303b50"><span class="lg" style="margin-left:3.1px">A</span><span class="lg" style="margin-left:0.1px">d</span><span class="lg" style="margin-left:-1.1px;transform:scaleX(.88)">s</span></span></div>
<svg width="1024" height="1024" viewBox="0 0 1024 1024" fill="none" stroke-linecap="round" stroke-linejoin="round">
<g stroke="#dfe3ea" stroke-width="1.05">
<path d="M35.4 134.4L40.2 136.4L45 134.4V144.6H35.4Z"/>
<path d="M40.6 165.6L46 170.6H43.4V175.4H37.8V170.6H35.2Z"/>
<path d="M38.6 172.4H42.4" stroke-width="1"/>
<path d="M36 207.2C34.6 205.6 35.6 203.8 37.4 203.4C40.2 202.8 41.6 200 43.6 198.6C45.2 197.6 46.4 199.2 45.4 200.8L39.2 207C38.2 208 36.8 208 36 207.2Z"/>
<path d="M43.6 231.2A5 5 0 1 0 44.2 237.6M44.4 231V239.6L46.2 241.4M37 241.4H44"/>
<circle cx="40.3" cy="269" r="6.3"/>
<path d="M40.6 265.4V269.4H38.4"/>
<rect x="34.8" y="296.4" width="11" height="11.2" rx="1.2"/>
<path d="M34.8 300H40.4V304H45.8M38.2 300V304.6H34.8"/>
<path d="M39.4 335.6L36.8 338.2A1.9 1.9 0 0 1 34.6 335.6L37.2 333M40.8 332.2L43.4 329.6A1.9 1.9 0 0 1 46 332.2L43.4 335M38.4 336L42.4 332"/>
<rect x="34.2" y="392.4" width="12.4" height="12.4" rx="4"/>
<path d="M38.2 397H42.6M38.2 399.6H42.6M40.4 396V400.4" stroke-width="0.9"/>
<rect x="34.8" y="426.4" width="11" height="11.2" rx="0.6"/>
<path d="M40.4 426.4V437.6M34.8 432H45.8M34.8 435.6H45.8" stroke-width="1"/>
<path d="M35 457.6H39.4V461.4H35ZM35 463.4H39.4V467.6H35ZM41.6 467.8V457.6H44.4A2.2 2.2 0 0 1 44.4 462H41.6M43.6 462L46.2 467.8" stroke-width="1.1"/>
<path d="M42.8 491.2A2.6 2.6 0 1 0 39.6 493.8C42.8 494.6 43.8 496.8 42.6 499.2A3 3 0 0 1 37.2 498.8C36.6 496.4 38.6 494.6 40.8 494.2" stroke-width="1.1"/>
<path d="M35 525.4H46M35 529H46M35 532.6H46" stroke-width="1.3"/>
</g>
<g fill="#d9dde5" stroke="none">
<circle cx="40.2" cy="364" r="2.5"/>
<path d="M34.4 374.2V369.6A2.6 2.6 0 0 1 37 367.4H40.6A2.6 2.6 0 0 1 43 369.8V374.2Z"/>
<path d="M42.6 368.4L46.2 372.2L43.6 374.2H42.6Z" opacity=".8"/>
</g>
<!-- header icons -->
<g stroke="#666b75" stroke-width="1.15">
<path d="M871.6 94.2A6.9 6.9 0 1 0 875.2 100.6"/><path d="M868.6 92.2L873.2 93.6L870.4 97.2Z" fill="#666b75" stroke-width="0.6"/>
<circle cx="900.7" cy="99.8" r="7.1"/>
<path d="M901.2 95V102.4M899 100.4L901.2 102.8L903.4 100.4" stroke-width="1.1"/>
</g>
<circle cx="933.2" cy="99.6" r="9" stroke="#f3c687" stroke-width="1.7"/>
<circle cx="933.2" cy="99.6" r="10.4" stroke="#fbe9cf" stroke-width="1.2" opacity=".7"/>
<path d="M931 97.6H935.2V102H931" stroke="#4b7fa6" stroke-width="1.1"/>
<g fill="#4b505c" stroke="none">
<circle cx="964.4" cy="94" r="1.25"/><circle cx="964.4" cy="99.6" r="1.25"/><circle cx="964.4" cy="105.2" r="1.25"/>
<path d="M985.4 94L988.2 95.6L985.4 97.4ZM985.4 98.6L988.6 100.6L985.4 102.6Z"/>
<path d="M989.6 139.4L991.4 137.2L993.2 139.4Z" fill="#5a6070"/>
</g>
<!-- search icon -->
<g stroke="#4e5668" stroke-width="1.2">
<circle cx="495.8" cy="141.4" r="4.6"/>
<path d="M499.2 144.8L502 147.6M494.2 141.6H497.2" />
</g>
<!-- lock + bell -->
<g fill="#5b7191" stroke="none">
<rect x="879.4" y="140" width="7.6" height="6" rx="0.6"/>
</g>
<path d="M881 140V138.6A2.2 2.2 0 0 1 885.4 138.6V140" stroke="#5b7191" stroke-width="1.2"/>
<path d="M882.2 142.6H884.4" stroke="#dfe5ee" stroke-width="1"/>
<path d="M958.6 144.4V140.6A3.9 3.9 0 0 1 962.5 136.6A3.9 3.9 0 0 1 966.4 140.6V144.4L967 145.6H958Z" stroke="#7d8594" stroke-width="1"/>
<!-- info -->
<circle cx="124.7" cy="290" r="3.7" stroke="#2f709c" stroke-width="1.3"/>
<path d="M124.7 288.4V291.6" stroke="#2f709c" stroke-width="1.3"/>
<!-- small marks chart1 -->
<!-- side info icon -->
<path d="M422.6 244H426M425.6 242.2A1.9 1.9 0 1 1 425.6 245.8" stroke="#4b8fb8" stroke-width="1"/>
<!-- dark bar icons -->
<path d="M133.2 315.8A2.6 2.6 0 0 1 134.4 311.2A3.2 3.2 0 0 1 140.2 310.8A2.6 2.6 0 0 1 141.4 315.8ZM137.3 312.4V315.6" stroke="#3f7f8e" stroke-width="1.1"/>
<circle cx="140.6" cy="456.4" r="3.4" stroke="#c9ced8" stroke-width="1.4" fill="#6a7388"/>
<circle cx="141" cy="456" r="1.2" fill="#e6e9ef"/>
<!-- chevrons -->
<path d="M593.6 485.4L597 482.6L600.4 485.4" stroke="#9aa0ac" stroke-width="1"/>
<path d="M961.6 341L964 339.4L966.4 341" stroke="#a5abb6" stroke-width="0.9"/>
<!-- wrout lock -->
<path d="M634 490.4H642V487L640.4 484.6H635.6L634 487ZM636 484.4V482.6A2 2 0 0 1 640 482.6V484.4" stroke="#3a4052" stroke-width="1.1"/>
<!-- $0090 small circle -->
<circle cx="584.6" cy="551" r="3.9" stroke="#4a90a8" stroke-width="1.1"/>
<path d="M584.8 549.4V551.4H586.4" stroke="#4a90a8" stroke-width="0.9"/>
<!-- right dark panel icons -->
<g stroke-width="1.1">
<path d="M644.2 616.2H646.2M644.2 618.8H646.2" stroke="#4e9aa6"/>
<path d="M646.6 635.2A2 2 0 1 0 646.6 638.6" stroke="#c3c8d3"/>
<path d="M646 651.6H644.2V656H646" stroke="#d66a5c"/>
<path d="M647.8 675.6H644.6V678H647.6V680.6H644.4" stroke="#4e9aa6"/>
<path d="M644.6 693.2H647M644.6 696.8H647" stroke="#4e9aa6"/>
<path d="M646.8 710.4H644.6V714.8H646.8" stroke="#aeb5c3"/>
<path d="M644.6 755.6H646.4" stroke="#4e9aa6"/>
<path d="M956.6 615.6L959 618L956.6 620.4" stroke="#9aa3b5"/>
<path d="M956.4 675L958.8 677.2L956.4 679.6" stroke="#9aa3b5"/>
<path d="M956.4 799.8L960 803.2L956.4 806.6" stroke="#aab2c2"/>
<path d="M955.4 649.4L957.4 651.4L959.4 649.4" stroke="#c3c8d3"/>
</g>
<!-- table icons -->
<circle cx="149.6" cy="842" r="10.8" fill="#2f7f9f" stroke="none"/>
<path d="M149.6 831.2A10.8 10.8 0 0 1 158.6 848L149.6 842Z" fill="#f07a3a" stroke="none"/>
<path d="M158.6 848A10.8 10.8 0 0 1 142.6 850.2L149.6 842Z" fill="#c8463f" stroke="none"/>
<circle cx="149.4" cy="842" r="3" fill="#f6f1ea" stroke="none"/>
<path d="M147.6 842H151" stroke="#c8463f" stroke-width="1"/>
<path d="M313.6 833.4C313.2 832 314 831.4 315.4 831.4H330.4C333.6 831.6 334.6 834.6 333 837.6C331.6 839.8 330.6 840.6 332.4 842C335.4 844.2 335.8 848.6 333 851.6C330.4 853.6 326 853.8 323.6 851.8C321.4 849.8 322 846.8 320 845.4C316 843.4 313.8 839.4 313.6 833.4Z" fill="#6da2d3" stroke="none"/>
<path d="M313.6 833.4C313.2 832 314 831.4 315.4 831.4H324C322 836 320 839 316.6 843C314.4 840.4 313.8 837 313.6 833.4Z" fill="#7fbce0" stroke="none" opacity=".9"/>
<path d="M647.6 882.6L651.2 874.2L654.8 882.6M648.8 880.4H653.6" stroke="#4f7fb2" stroke-width="1.6"/>
<rect x="943.6" y="875.6" width="3.6" height="5" rx="1" fill="#2f6f8f" stroke="none"/>
<circle cx="954" cy="877.4" r="2.3" stroke="#8cc3dc" stroke-width="1"/>
<g fill="#6a7080" stroke="none"><circle cx="961.6" cy="847.6" r="0.9"/><path d="M964.4 846.2L966.6 847.6L964.4 849Z"/></g>
</svg>
</body></html>
